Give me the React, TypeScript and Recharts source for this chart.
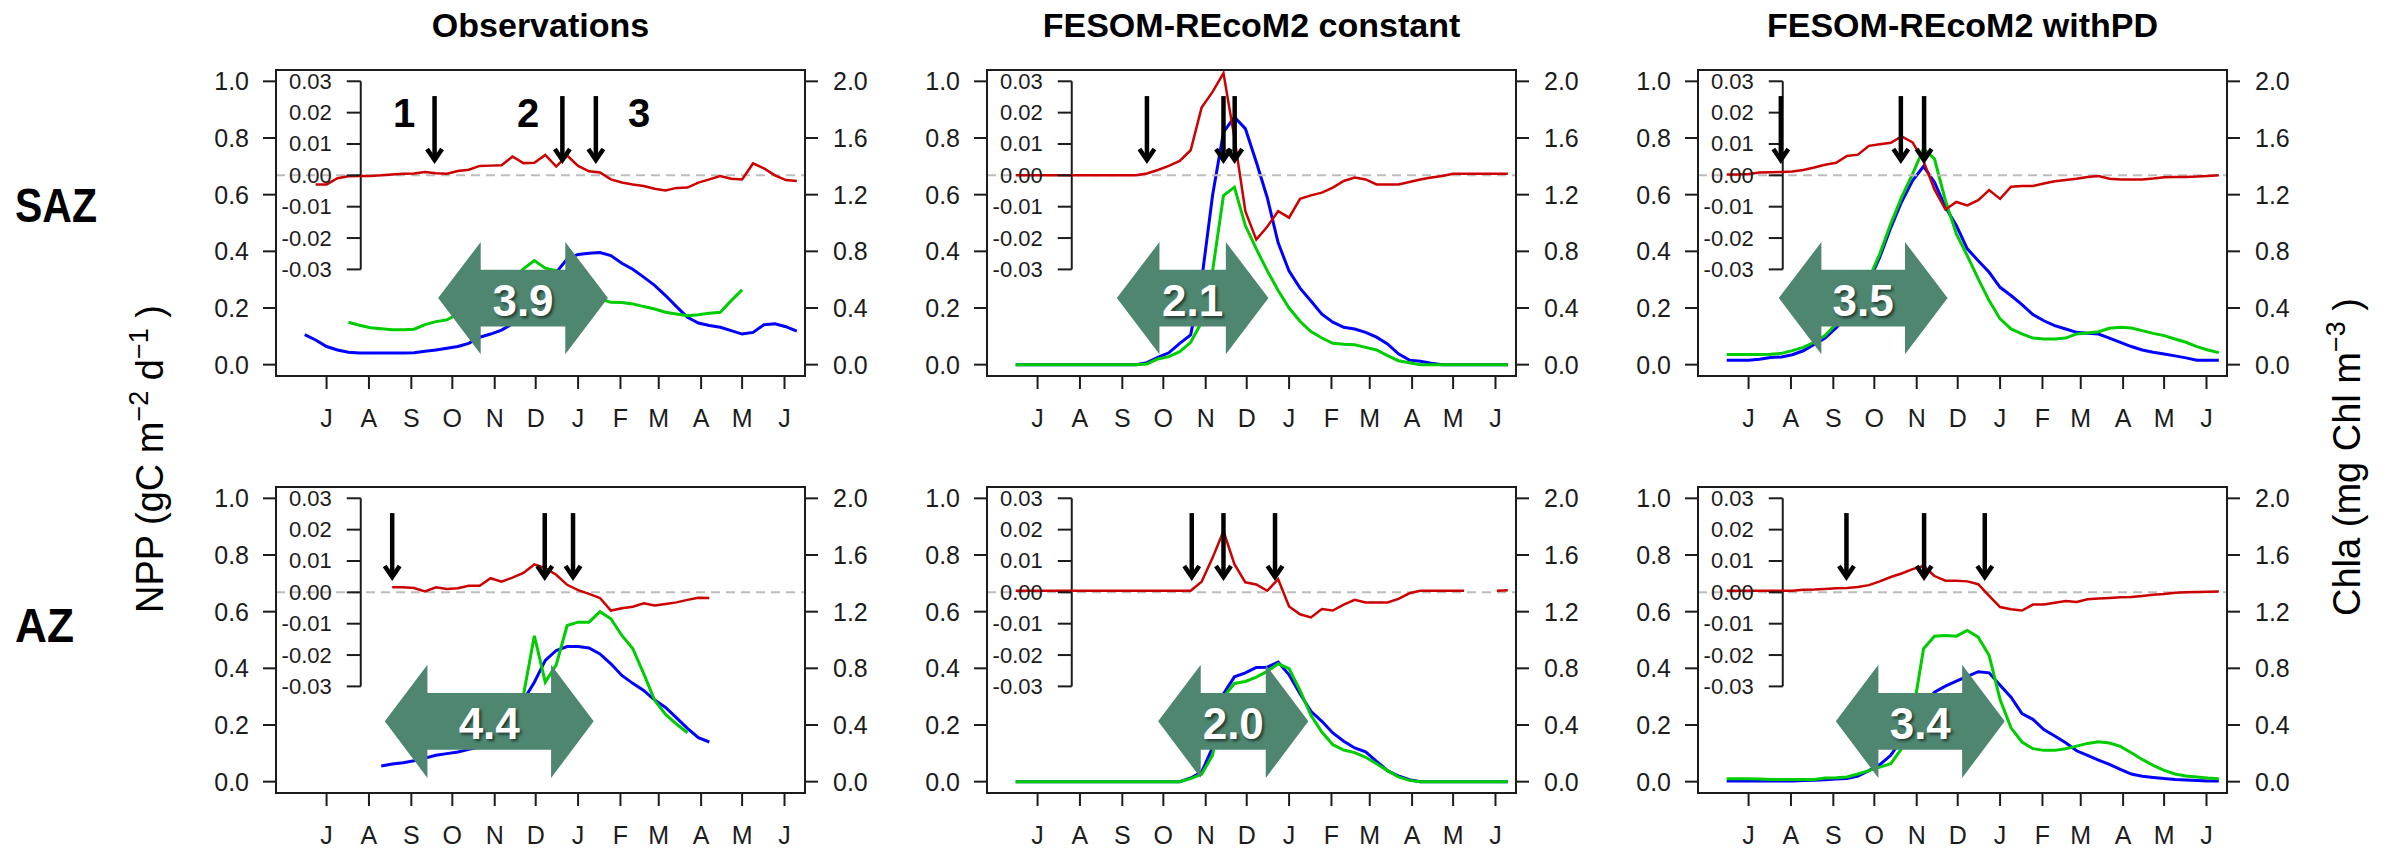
import React from 'react';
import {
  ComposedChart,
  Line,
  Scatter,
  XAxis,
  YAxis,
  ReferenceLine,
  ReferenceArea,
} from 'recharts';

// ---------- styling ----------
const FONT = "'Liberation Sans', Arial, Helvetica, sans-serif";
const INK = '#1c1c1c';
const BLUE = '#0000ff';
const GREEN = '#00cd00';
const RED = '#cc0000';
const SPAN_FILL = '#4e8670';
const ZERO_DASH = '#bdbdbd';

// ---------- axes ----------
// 8-day composite dates, in days counted from 1 July
const DAYS = [
  -16, -8, 0, 8, 16, 24, 32, 40, 48, 56, 64, 72, 80, 88, 96, 104, 112, 120, 128, 136, 144, 152, 160,
  168, 176, 184, 192, 200, 208, 216, 224, 232, 240, 248, 256, 264, 272, 280, 288, 296, 304, 312, 320,
  328, 336, 344,
];
const MONTH_STARTS = [0, 31, 62, 92, 123, 153, 184, 215, 243, 274, 304, 335];
const MONTH_LABELS = ['J', 'A', 'S', 'O', 'N', 'D', 'J', 'F', 'M', 'A', 'M', 'J'];
const NPP_TICKS = [0, 0.2, 0.4, 0.6, 0.8, 1.0];
const CHL_TICKS = [0, 0.4, 0.8, 1.2, 1.6, 2.0];
const RATE_TICKS = [0.03, 0.02, 0.01, 0, -0.01, -0.02, -0.03];
const X_DOMAIN = [-37, 350];
const NPP_DOMAIN = [-0.04, 1.04];
const CHL_DOMAIN = [-0.08, 2.08];
const RATE_DOMAIN = [-0.064, 0.0336];
const INSET_DAY = 25;

const PANEL_TITLES = ['Observations', 'FESOM-REcoM2 constant', 'FESOM-REcoM2 withPD'];
const ZONES = ['SAZ', 'AZ'];

// ---------- Sub-Antarctic Zone ----------
const obsSazNpp = [
  0.106, 0.087, 0.064, 0.052, 0.044, 0.041, 0.041, 0.041, 0.041, 0.041, 0.042, 0.047, 0.052, 0.058,
  0.064, 0.075, 0.097, 0.108, 0.122, 0.144, 0.173, 0.214, 0.267, 0.326, 0.373, 0.389, 0.393, 0.396,
  0.385, 0.358, 0.337, 0.309, 0.28, 0.244, 0.205, 0.167, 0.147, 0.138, 0.132, 0.12, 0.108, 0.114,
  0.141, 0.144, 0.134, 0.118,
];
const obsSazChl = [
  null, null, null, null, 0.299, 0.278, 0.261, 0.254, 0.247, 0.247, 0.25, 0.283, 0.304, 0.316, 0.356,
  0.403, 0.45, 0.497, 0.544, 0.594, 0.676, 0.735, 0.681, 0.664, 0.617, 0.565, 0.516, 0.464, 0.44,
  0.438, 0.429, 0.41, 0.393, 0.37, 0.358, 0.346, 0.353, 0.363, 0.37, 0.452, 0.528, null, null, null,
  null, null,
];
const obsSazRate = [
  null, -0.0029, -0.0029, -0.0009, -0.0003, -0.0002, -0.0002, 0, 0.0003, 0.0005, 0.0006, 0.0011,
  0.0007, 0.0005, 0.0014, 0.0018, 0.003, 0.0031, 0.0032, 0.006, 0.0039, 0.004, 0.0065, 0.0028, 0.0063,
  0.003, 0.0013, 0.0009, -0.0013, -0.0023, -0.0029, -0.0034, -0.0043, -0.0048, -0.004, -0.0039,
  -0.0023, -0.0013, -0.0002, -0.0011, -0.0013, 0.0038, 0.0022, 0, -0.0015, -0.0018,
];

const conSazNpp = [
  0, 0, 0, 0, 0, 0, 0, 0, 0, 0, 0, 0, 0.007, 0.026, 0.042, 0.075, 0.105, 0.297, 0.597, 0.821, 0.874,
  0.833, 0.715, 0.59, 0.43, 0.33, 0.27, 0.225, 0.178, 0.15, 0.132, 0.126, 0.114, 0.097, 0.073, 0.038,
  0.016, 0.012, 0.005, 0, 0, 0, 0, 0, 0, 0,
];
const conSazChl = [
  0, 0, 0, 0, 0, 0, 0, 0, 0, 0, 0, 0, 0.005, 0.04, 0.057, 0.092, 0.158, 0.3, 0.66, 1.194, 1.253, 0.982,
  0.817, 0.664, 0.523, 0.4, 0.306, 0.233, 0.188, 0.151, 0.144, 0.141, 0.122, 0.104, 0.064, 0.028,
  0.014, 0, 0, 0, 0, 0, 0, 0, 0, 0,
];
const conSazRate = [
  0, 0, 0, 0, 0, 0, 0, 0, 0, 0, 0, 0, 0.0006, 0.0017, 0.003, 0.0046, 0.008, 0.0216, 0.0266, 0.0326,
  0.012, -0.0114, -0.0205, -0.0164, -0.0114, -0.0135, -0.0075, -0.0064, -0.0055, -0.0039, -0.0018,
  -0.0007, -0.0013, -0.0029, -0.0029, -0.0029, -0.0021, -0.0013, -0.0007, -0.0002, 0.0005, 0.0005,
  0.0005, 0.0005, 0.0005, 0.0005,
];

const pdSazNpp = [
  0.016, 0.016, 0.016, 0.019, 0.025, 0.027, 0.035, 0.049, 0.071, 0.094, 0.13, 0.17, 0.223, 0.293,
  0.379, 0.483, 0.575, 0.65, 0.7, 0.644, 0.556, 0.491, 0.409, 0.367, 0.326, 0.273, 0.244, 0.212,
  0.177, 0.155, 0.138, 0.126, 0.114, 0.111, 0.108, 0.094, 0.079, 0.064, 0.052, 0.044, 0.038, 0.031,
  0.024, 0.016, 0.016, 0.016,
];
const pdSazChl = [
  0.071, 0.071, 0.071, 0.071, 0.073, 0.08, 0.099, 0.122, 0.158, 0.205, 0.287, 0.37, 0.471, 0.605,
  0.782, 0.994, 1.183, 1.347, 1.524, 1.453, 1.159, 0.923, 0.77, 0.605, 0.452, 0.323, 0.252, 0.217,
  0.188, 0.181, 0.181, 0.188, 0.217, 0.224, 0.233, 0.257, 0.264, 0.259, 0.24, 0.221, 0.205, 0.181,
  0.158, 0.127, 0.104, 0.085,
];
const pdSazRate = [
  0.0003, 0.0003, 0.0004, 0.0009, 0.001, 0.0011, 0.0012, 0.0017, 0.0025, 0.0034, 0.004, 0.0062,
  0.0066, 0.0094, 0.0099, 0.0104, 0.0124, 0.0105, 0.0045, -0.0045, -0.0109, -0.0085, -0.0096,
  -0.0079, -0.0047, -0.0075, -0.0036, -0.0034, -0.0034, -0.0026, -0.0019, -0.0015, -0.0011, -0.0005,
  -0.0002, -0.0011, -0.0013, -0.0013, -0.0013, -0.001, -0.0006, -0.0005, -0.0005, -0.0004, -0.0002, 0,
];

// ---------- Antarctic Zone ----------
const obsAzNpp = [
  null, null, null, null, null, null, null, 0.055, 0.062, 0.067, 0.074, 0.083, 0.093, 0.099, 0.105,
  0.114, 0.122, 0.14, 0.169, 0.216, 0.287, 0.351, 0.428, 0.463, 0.477, 0.477, 0.472, 0.451, 0.416,
  0.375, 0.347, 0.322, 0.288, 0.262, 0.225, 0.188, 0.155, 0.14, null, null, null, null, null, null,
  null, null,
];
const obsAzChl = [
  null, null, null, null, null, null, null, null, null, null, null, null, null, null, null, null, null,
  null, null, 0.42, 0.609, 1.03, 0.703, 0.825, 1.102, 1.126, 1.126, 1.2, 1.15, 1.032, 0.94, 0.762,
  0.574, 0.475, 0.407, 0.345, null, null, null, null, null, null, null, null, null, null,
];
const obsAzRate = [
  null, null, null, null, null, null, null, null, 0.0016, 0.0016, 0.0014, 0.0003, 0.0016, 0.0011,
  0.0013, 0.0021, 0.0021, 0.0045, 0.0034, 0.0047, 0.0062, 0.0089, 0.0077, 0.0056, 0.0024, 0.0007,
  -0.0005, -0.0018, -0.0058, -0.0051, -0.0046, -0.0035, -0.0042, -0.0037, -0.0032, -0.0024, -0.0017,
  -0.0018, null, null, null, null, null, null, null, null,
];

const conAzNpp = [
  0, 0, 0, 0, 0, 0, 0, 0, 0, 0, 0, 0, 0, 0, 0, 0, 0.013, 0.034, 0.12, 0.31, 0.37, 0.384, 0.403, 0.404,
  0.422, 0.377, 0.31, 0.248, 0.213, 0.172, 0.143, 0.119, 0.105, 0.072, 0.039, 0.02, 0.007, 0, 0, 0, 0,
  0, 0, 0, 0, 0,
];
const conAzChl = [
  0, 0, 0, 0, 0, 0, 0, 0, 0, 0, 0, 0, 0, 0, 0, 0, 0.021, 0.052, 0.186, 0.597, 0.693, 0.707, 0.738,
  0.778, 0.832, 0.797, 0.644, 0.468, 0.35, 0.261, 0.223, 0.205, 0.172, 0.127, 0.078, 0.033, 0.009, 0,
  0, 0, 0, 0, 0, 0, 0, 0,
];
const conAzRate = [
  0.0005, 0.0005, 0.0005, 0.0005, 0.0005, 0.0005, 0.0005, 0.0005, 0.0005, 0.0005, 0.0005, 0.0005,
  0.0005, 0.0005, 0.0005, 0.0005, 0.0005, 0.0034, 0.011, 0.0195, 0.009, 0.0032, 0.0025, 0.0005, 0.0042,
  -0.0045, -0.007, -0.008, -0.0053, -0.0058, -0.0039, -0.0024, -0.0032, -0.0032, -0.0032, -0.0021,
  -0.0003, 0.0005, 0.0005, 0.0005, 0.0005, 0.0005, null, null, 0.0005, 0.0007,
];

const pdAzNpp = [
  0.002, 0.002, 0.002, 0.002, 0.002, 0.002, 0.002, 0.004, 0.005, 0.007, 0.009, 0.011, 0.02, 0.039,
  0.06, 0.093, 0.149, 0.21, 0.267, 0.316, 0.337, 0.355, 0.372, 0.388, 0.384, 0.34, 0.298, 0.24, 0.22,
  0.184, 0.161, 0.137, 0.109, 0.093, 0.076, 0.061, 0.043, 0.027, 0.019, 0.015, 0.011, 0.008, 0.006,
  0.004, 0.002, 0.002,
];
const pdAzChl = [
  0.021, 0.021, 0.021, 0.018, 0.016, 0.016, 0.016, 0.016, 0.016, 0.026, 0.028, 0.033, 0.054, 0.078,
  0.103, 0.127, 0.233, 0.468, 0.938, 1.027, 1.032, 1.027, 1.067, 1.02, 0.89, 0.58, 0.38, 0.28, 0.233,
  0.221, 0.221, 0.233, 0.251, 0.27, 0.282, 0.273, 0.249, 0.204, 0.157, 0.115, 0.08, 0.054, 0.04, 0.033,
  0.026, 0.021,
];
const pdAzRate = [
  0.0005, 0.0005, 0.0005, 0.0005, 0.0005, 0.0005, 0.0005, 0.0008, 0.0009, 0.0011, 0.0013, 0.0014,
  0.0017, 0.0023, 0.0035, 0.0049, 0.006, 0.0074, 0.0084, 0.0052, 0.0037, 0.0037, 0.0035, 0.0026,
  -0.0011, -0.0047, -0.0054, -0.0058, -0.0039, -0.0039, -0.0033, -0.0028, -0.0031, -0.0022, -0.002,
  -0.0018, -0.0016, -0.0015, -0.0012, -0.0008, -0.0005, -0.0001, 0, 0.0001, 0.0002, 0.0003,
];

// ---------- bloom phase markers (days from 1 July) ----------
const obsSazMarkers = [79, 172.5, 197];
const conSazMarkers = [80, 136, 144.2];
const pdSazMarkers = [23.6, 111.4, 128.4];
const obsAzMarkers = [48, 159.6, 180.3];
const conAzMarkers = [112.8, 136, 173.7];
const pdAzMarkers = [71.6, 128.4, 172.8];
const MARKER_TIP = 0.715;

const STAGE_NAMES = ['1', '2', '3'];
const STAGE_NAME_DAYS = [56.8, 147.4, 228.6];
const STAGE_NAME_LEVEL = 0.889;

// ---------- bloom duration arrows ----------
const DURATION_LABELS = ['3.9', '2.1', '3.5', '4.4', '2.0', '3.4'];
const DURATION_FROM = [81.6, 58, 22.1, 42.6, 88.2, 63.8];
const DURATION_TO = [205.8, 168.9, 145.6, 195.4, 198.1, 187.4];
const DURATION_BAND = [
  [0.037, 0.433],
  [0.013, 0.413],
];

// ---------- layout ----------
const BOX_LEFT = [276, 987, 1698];
const BOX_TOP = [70, 487];
const BOX_W = 529;
const BOX_H = 306;
const AXIS_W = 90;
const MARGIN = 10;
const XAXIS_H = 60;
const CHART_W = BOX_W + 2 * AXIS_W + 2 * MARGIN;
const CHART_H = BOX_H + XAXIS_H + 2 * MARGIN;

type Num = number | null;
const toSeries = (values: Num[]) => DAYS.map((day, i) => ({ day, v: values[i] }));

const PANELS = [
  { row: 0, col: 0, npp: obsSazNpp, chl: obsSazChl, rate: obsSazRate, markers: obsSazMarkers, stages: true },
  { row: 0, col: 1, npp: conSazNpp, chl: conSazChl, rate: conSazRate, markers: conSazMarkers, stages: false },
  { row: 0, col: 2, npp: pdSazNpp, chl: pdSazChl, rate: pdSazRate, markers: pdSazMarkers, stages: false },
  { row: 1, col: 0, npp: obsAzNpp, chl: obsAzChl, rate: obsAzRate, markers: obsAzMarkers, stages: false },
  { row: 1, col: 1, npp: conAzNpp, chl: conAzChl, rate: conAzRate, markers: conAzMarkers, stages: false },
  { row: 1, col: 2, npp: pdAzNpp, chl: pdAzChl, rate: pdAzRate, markers: pdAzMarkers, stages: false },
];

const insetTickPoints = RATE_TICKS.map((t) => ({ day: INSET_DAY, v: t, label: t.toFixed(2) }));

// ---------- custom marks ----------
const InsetTick = (p: any) => {
  const label = p.payload?.label ?? p.label;
  return (
    <g>
      <line x1={p.cx - 14} y1={p.cy} x2={p.cx} y2={p.cy} stroke={INK} strokeWidth={2} />
      <text
        x={p.cx - 29}
        y={p.cy}
        textAnchor="end"
        dominantBaseline="central"
        fontSize={22}
        fill={INK}
        fontFamily={FONT}
      >
        {label}
      </text>
    </g>
  );
};

const DownArrow = (p: any) => {
  const { cx, cy } = p;
  return (
    <g>
      <line x1={cx} y1={cy - 66} x2={cx} y2={cy - 5} stroke="#000" strokeWidth={4.5} />
      <polyline
        points={`${cx - 7.5},${cy - 13} ${cx},${cy - 2} ${cx + 7.5},${cy - 13}`}
        fill="none"
        stroke="#000"
        strokeWidth={4.5}
        strokeLinejoin="miter"
      />
    </g>
  );
};

const StageName = (p: any) => (
  <text
    x={p.cx}
    y={p.cy}
    textAnchor="middle"
    dominantBaseline="central"
    fontSize={40}
    fontWeight="bold"
    fill="#000"
    fontFamily={FONT}
  >
    {p.payload?.name ?? p.name}
  </text>
);

const durationShape = (label: string) => (p: any) => {
  const { x, y, width, height } = p;
  const mid = y + height / 2;
  const head = 42.6;
  const half = 28.4;
  const pts = [
    [x, mid],
    [x + head, y],
    [x + head, mid - half],
    [x + width - head, mid - half],
    [x + width - head, y],
    [x + width, mid],
    [x + width - head, y + height],
    [x + width - head, mid + half],
    [x + head, mid + half],
    [x + head, y + height],
  ]
    .map((q) => q.join(','))
    .join(' ');
  const fid = `soft-${label.replace('.', '-')}`;
  const cx = x + width / 2;
  return (
    <g>
      <defs>
        <filter id={fid} x="-30%" y="-30%" width="160%" height="160%">
          <feGaussianBlur stdDeviation="1.6" />
        </filter>
      </defs>
      <polygon points={pts} fill={SPAN_FILL} />
      <text
        x={cx + 2}
        y={mid + 4}
        textAnchor="middle"
        dominantBaseline="central"
        fontSize={44}
        fontWeight="bold"
        fill="#000"
        fillOpacity={0.6}
        filter={`url(#${fid})`}
        fontFamily={FONT}
      >
        {label}
      </text>
      <text
        x={cx}
        y={mid + 2}
        textAnchor="middle"
        dominantBaseline="central"
        fontSize={44}
        fontWeight="bold"
        fill="#ffffff"
        fontFamily={FONT}
      >
        {label}
      </text>
    </g>
  );
};

const tickStyle = { fontSize: 25, fill: INK, fontFamily: FONT };
const tickLineStyle = { stroke: INK, strokeWidth: 2 };

function Panel({ cfg, index }: { cfg: (typeof PANELS)[number]; index: number }) {
  const band = DURATION_BAND[cfg.row];
  const markerPoints = cfg.markers.map((day) => ({ day, v: MARKER_TIP }));
  const stagePoints = STAGE_NAMES.map((name, i) => ({ day: STAGE_NAME_DAYS[i], v: STAGE_NAME_LEVEL, name }));
  return (
    <div style={{ position: 'absolute', left: BOX_LEFT[cfg.col] - MARGIN - AXIS_W, top: BOX_TOP[cfg.row] - MARGIN }}>
      <ComposedChart
        width={CHART_W}
        height={CHART_H}
        margin={{ top: MARGIN, right: MARGIN, bottom: MARGIN, left: MARGIN }}
      >
        <XAxis
          type="number"
          dataKey="day"
          domain={X_DOMAIN}
          allowDataOverflow
          ticks={MONTH_STARTS}
          interval={0}
          tickFormatter={(d: number) => MONTH_LABELS[MONTH_STARTS.indexOf(d)]}
          tickSize={13}
          tickMargin={20}
          axisLine={false}
          tickLine={tickLineStyle}
          tick={tickStyle}
          height={XAXIS_H}
        />
        <YAxis
          yAxisId="npp"
          domain={NPP_DOMAIN}
          allowDataOverflow
          ticks={NPP_TICKS}
          interval={0}
          tickFormatter={(v: number) => v.toFixed(1)}
          tickSize={13}
          tickMargin={14}
          axisLine={false}
          tickLine={tickLineStyle}
          tick={tickStyle}
          width={AXIS_W}
        />
        <YAxis
          yAxisId="chl"
          orientation="right"
          domain={CHL_DOMAIN}
          allowDataOverflow
          ticks={CHL_TICKS}
          interval={0}
          tickFormatter={(v: number) => v.toFixed(1)}
          tickSize={13}
          tickMargin={15}
          axisLine={false}
          tickLine={tickLineStyle}
          tick={tickStyle}
          width={AXIS_W}
        />
        <YAxis yAxisId="rate" hide width={0} domain={RATE_DOMAIN} allowDataOverflow />

        <Line
          yAxisId="npp"
          data={toSeries(cfg.npp)}
          dataKey="v"
          stroke={BLUE}
          strokeWidth={3}
          dot={false}
          activeDot={false}
          isAnimationActive={false}
        />
        <Line
          yAxisId="chl"
          data={toSeries(cfg.chl)}
          dataKey="v"
          stroke={GREEN}
          strokeWidth={3}
          dot={false}
          activeDot={false}
          isAnimationActive={false}
        />

        <ReferenceLine yAxisId="rate" y={0} stroke={ZERO_DASH} strokeWidth={2} strokeDasharray="9 6" />
        <ReferenceLine
          yAxisId="rate"
          segment={[
            { x: INSET_DAY, y: 0.03 },
            { x: INSET_DAY, y: -0.03 },
          ]}
          stroke={INK}
          strokeWidth={2}
        />
        <Scatter
          yAxisId="rate"
          data={insetTickPoints}
          dataKey="v"
          shape={InsetTick}
          isAnimationActive={false}
        />
        <Line
          yAxisId="rate"
          data={toSeries(cfg.rate)}
          dataKey="v"
          stroke={RED}
          strokeWidth={2.5}
          dot={false}
          activeDot={false}
          isAnimationActive={false}
        />

        <Scatter yAxisId="npp" data={markerPoints} dataKey="v" shape={DownArrow} isAnimationActive={false} />
        {cfg.stages && (
          <Scatter yAxisId="npp" data={stagePoints} dataKey="v" shape={StageName} isAnimationActive={false} />
        )}

        <ReferenceArea
          yAxisId="npp"
          x1={DURATION_FROM[index]}
          x2={DURATION_TO[index]}
          y1={band[0]}
          y2={band[1]}
          shape={durationShape(DURATION_LABELS[index])}
          zIndex={1800}
        />
        <ReferenceArea
          yAxisId="npp"
          x1={X_DOMAIN[0]}
          x2={X_DOMAIN[1]}
          y1={NPP_DOMAIN[0]}
          y2={NPP_DOMAIN[1]}
          fill="none"
          fillOpacity={0}
          stroke={INK}
          strokeWidth={2}
          zIndex={1900}
        />
      </ComposedChart>
    </div>
  );
}

export default function App() {
  return (
    <div
      style={{
        position: 'absolute',
        left: 0,
        top: 0,
        width: 2391,
        height: 848,
        background: '#ffffff',
        overflow: 'hidden',
        fontFamily: FONT,
      }}
    >
      <svg width={2391} height={848} style={{ position: 'absolute', left: 0, top: 0 }} fontFamily={FONT}>
        {PANEL_TITLES.map((t, i) => (
          <text key={t} x={BOX_LEFT[i] + BOX_W / 2} y={37} textAnchor="middle" fontSize={34} fontWeight="bold" fill="#000">
            {t}
          </text>
        ))}
        <text x={15} y={222} fontSize={49} fontWeight="bold" fill="#000" textLength={82} lengthAdjust="spacingAndGlyphs">
          {ZONES[0]}
        </text>
        <text x={15} y={642} fontSize={49} fontWeight="bold" fill="#000" textLength={59} lengthAdjust="spacingAndGlyphs">
          {ZONES[1]}
        </text>
        <text transform="translate(163 459) rotate(-90)" textAnchor="middle" fontSize={38} fill="#000">
          NPP (gC m
          <tspan dy={-15} fontSize={27}>
            −2
          </tspan>
          <tspan dy={15}> d</tspan>
          <tspan dy={-15} fontSize={27}>
            −1
          </tspan>
          <tspan dy={15}> )</tspan>
        </text>
        <text transform="translate(2360 457) rotate(-90)" textAnchor="middle" fontSize={38} fill="#000">
          Chla (mg Chl m
          <tspan dy={-15} fontSize={27}>
            −3
          </tspan>
          <tspan dy={15}> )</tspan>
        </text>
      </svg>
      {PANELS.map((cfg, i) => (
        <Panel key={i} cfg={cfg} index={i} />
      ))}
    </div>
  );
}
